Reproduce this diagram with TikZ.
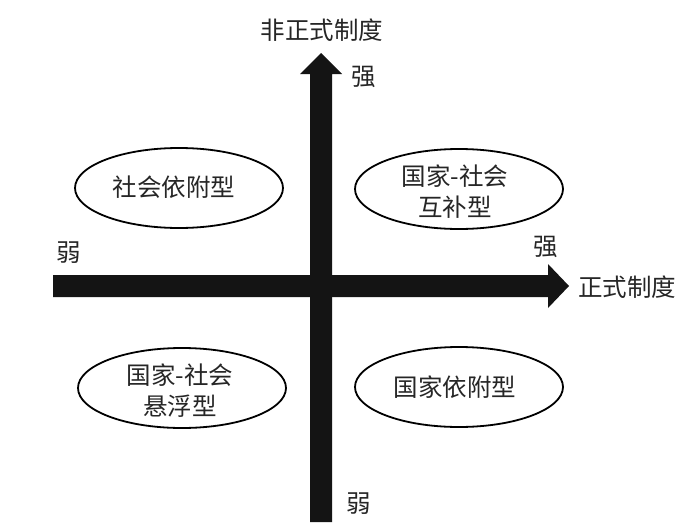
\documentclass[tikz,border=0pt]{standalone}
\usepackage{fontspec}
\usetikzlibrary{shapes.geometric}
\newfontfamily\cjk{Noto Sans CJK SC}
\begin{document}
\begin{tikzpicture}[x=1pt,y=-1pt,
  oval/.style={draw=black,line width=1.8pt,ellipse,minimum width=208pt,minimum height=80pt,inner sep=0pt},
  lbl/.style={font=\cjk\fontsize{24.5}{31}\selectfont,align=center,text=black!85},
  axis/.style={fill=black!92}]
\useasboundingbox[fill=white] (0,0) rectangle (700,527);
% horizontal arrow
\coordinate (hl) at (53,286);
\coordinate (hr) at (569,286);
\fill[axis] (53,275) -- (548,275) -- (548,264) -- (569,286) -- (548,308) -- (548,297) -- (53,297) -- cycle;
% vertical arrow
\coordinate (vb) at (321,522);
\coordinate (vt) at (321,53);
\fill[axis] (310,522) -- (310,74) -- (300,74) -- (321,53) -- (342,74) -- (332,74) -- (332,522) -- cycle;
% ellipses
\node[oval] (sa) at (179,188) {};
\node[oval] (ns) at (459,189) {};
\node[oval] (nf) at (182,388) {};
\node[oval] (na) at (459,387) {};
\node[lbl] (tsa) at (174,187) {社会依附型};
\node[lbl] (tns) at (455,192) {国家-社会\\互补型};
\node[lbl] (tnf) at (180,391) {国家-社会\\悬浮型};
\node[lbl] (tna) at (455,387) {国家依附型};
% axis labels
\node[lbl] (fz) at (322,30) {非正式制度};
\node[lbl] (zs) at (627,287) {正式制度};
\node[lbl] (q1) at (364,77) {强};
\node[lbl] (q2) at (546,247) {强};
\node[lbl] (r1) at (69,253) {弱};
\node[lbl] (r2) at (359,504) {弱};
\end{tikzpicture}
\end{document}
